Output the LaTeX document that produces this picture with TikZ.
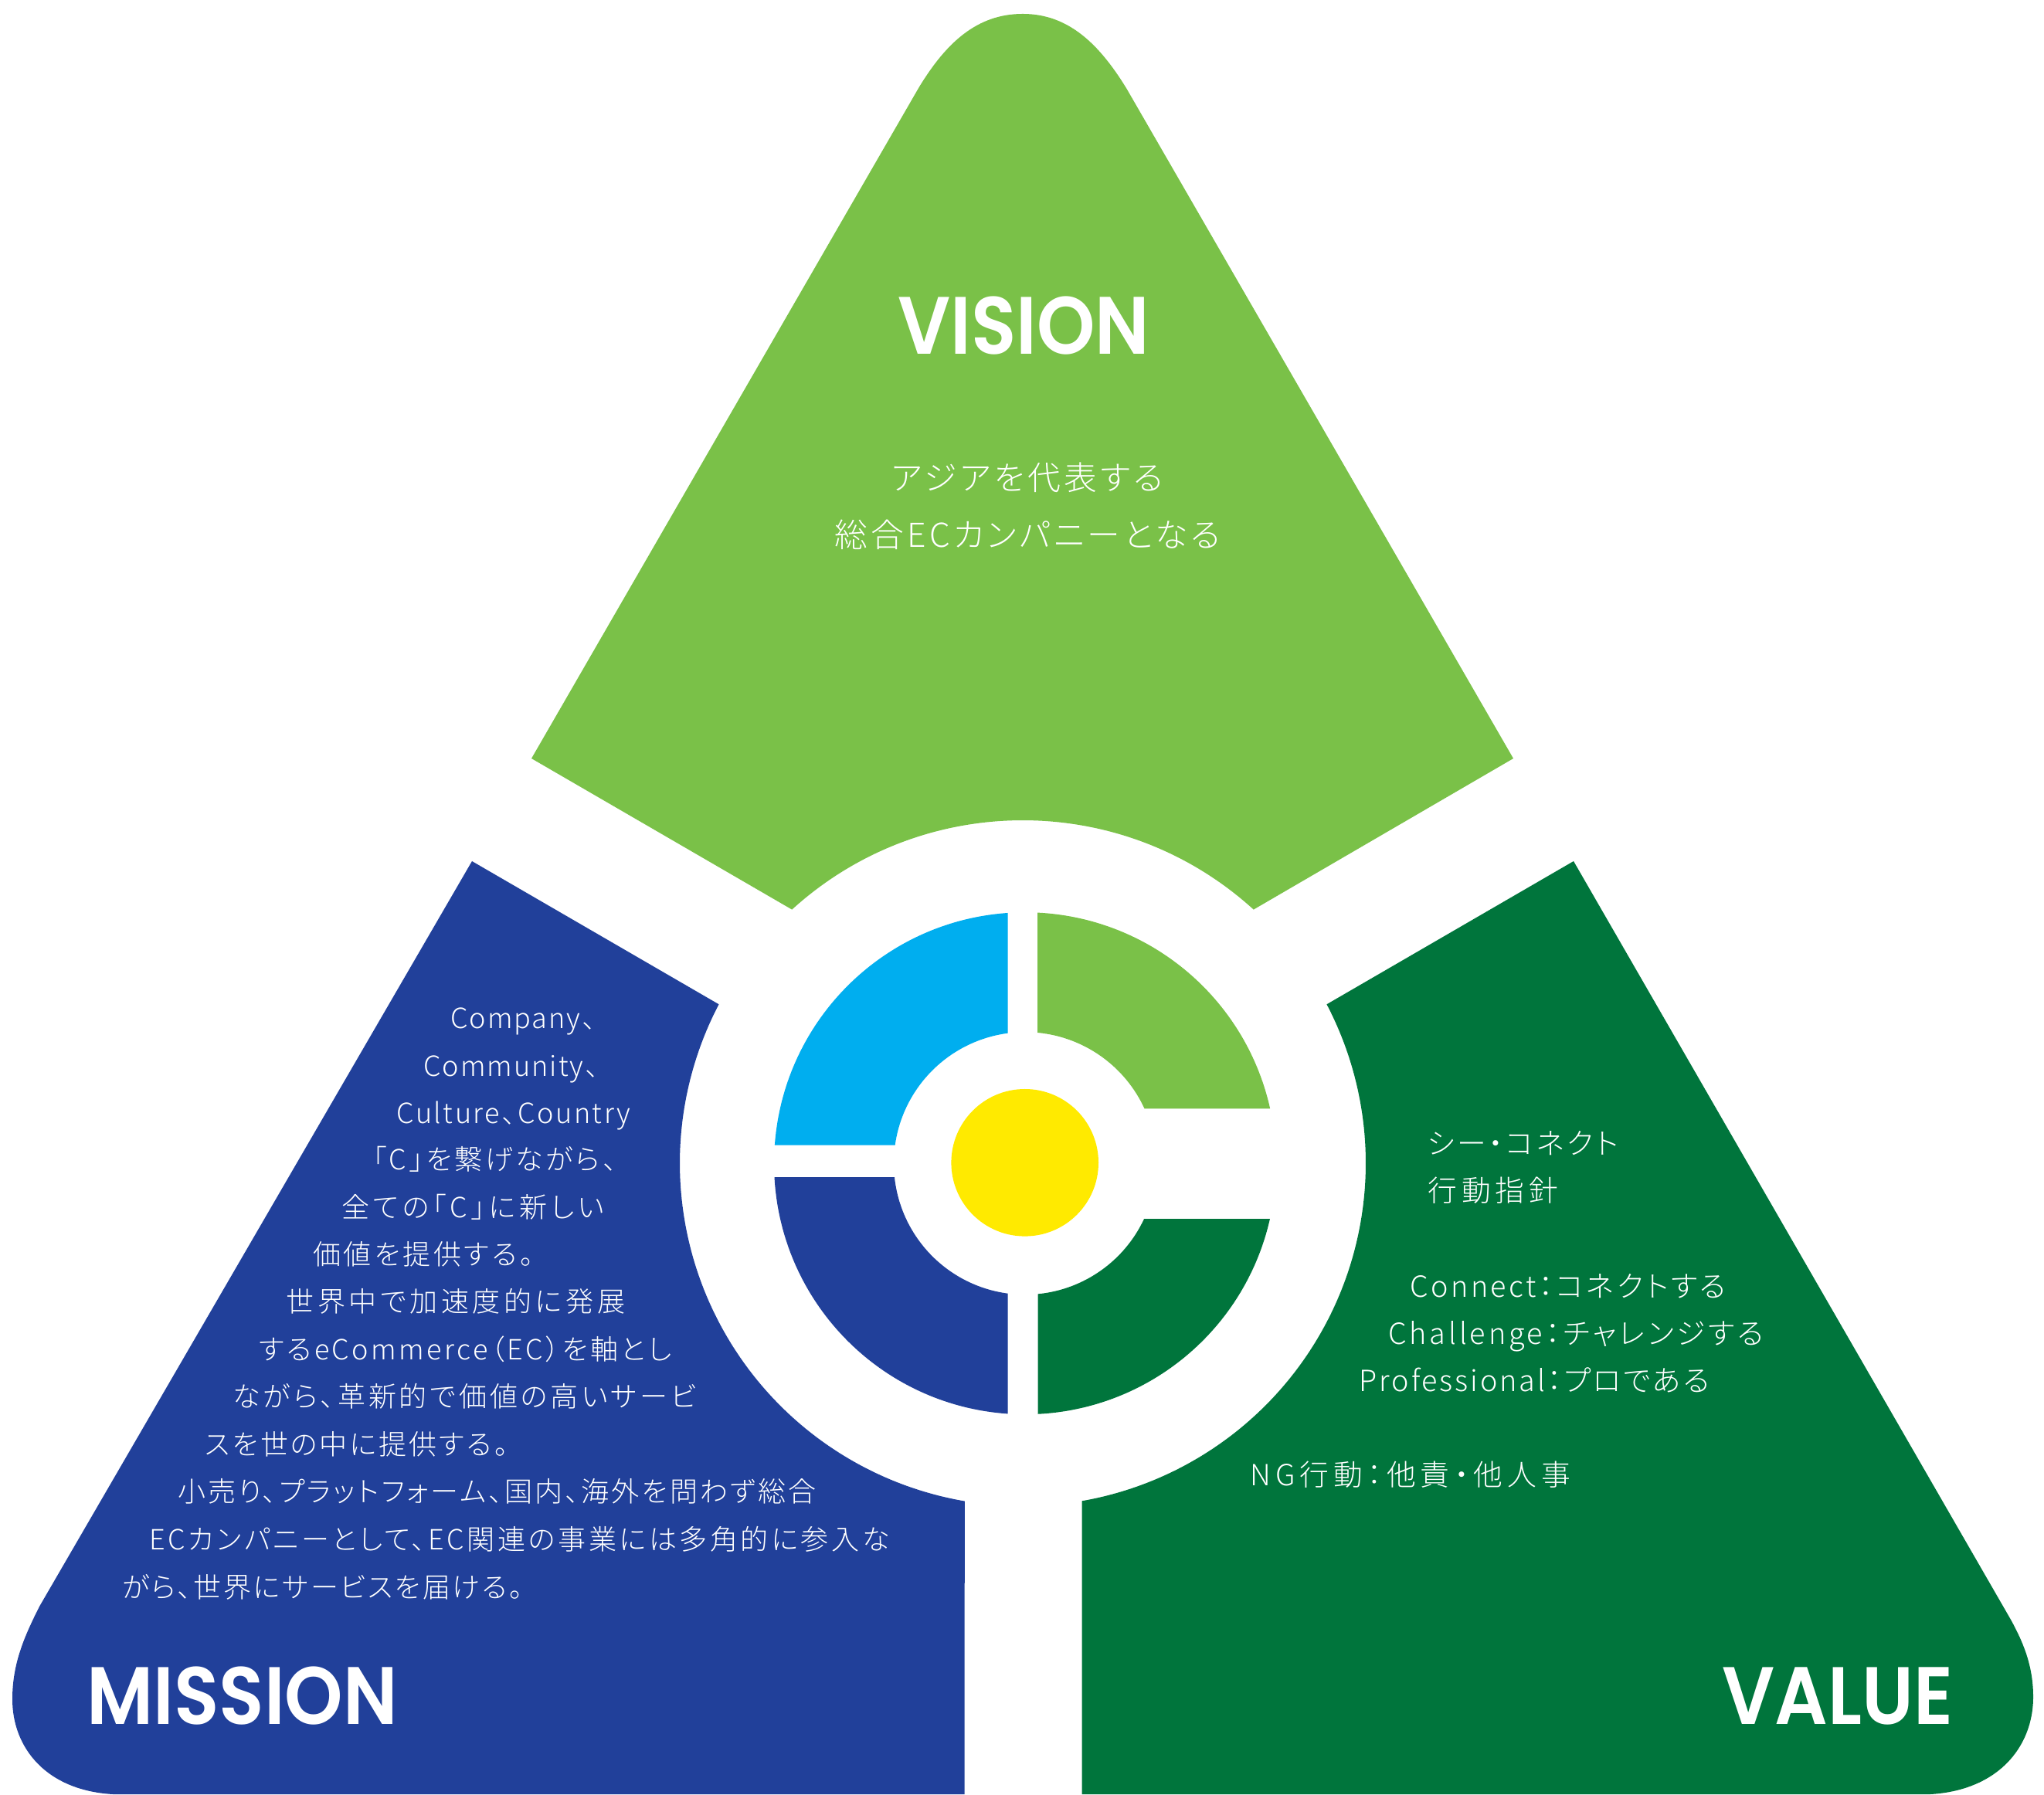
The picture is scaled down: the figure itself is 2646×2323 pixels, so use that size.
\documentclass[tikz,border=0pt]{standalone}
\usepackage{fontspec}
\newfontfamily\jpfont[LetterSpace=10,RawFeature=+palt]{Noto Sans CJK JP Light}
\newfontfamily\latinfont[LetterSpace=5.5,RawFeature=+palt]{Noto Sans CJK JP Light}
\newfontfamily\titlefont[FakeStretch=.91]{Poppins SemiBold}
\definecolor{visiongreen}{HTML}{7AC148}
\definecolor{missionblue}{HTML}{21409A}
\definecolor{valuegreen}{HTML}{00753C}
\definecolor{ringcyan}{HTML}{00AEEF}
\definecolor{coreyellow}{HTML}{FFEA00}
\newcommand{\spaced}[1]{\addfontfeatures{LetterSpace=#1}}
\tikzset{
  bodytext/.style={anchor=base west, inner sep=0pt, text=white, font=\jpfont\fontsize{20.5}{24}\selectfont},
  latintext/.style={bodytext, font=\latinfont\fontsize{20.5}{24}\selectfont},
  visiontext/.style={anchor=base, inner sep=0pt, text=white, font=\jpfont\fontsize{24.3}{28}\selectfont},
  valuetext/.style={bodytext, font=\jpfont\fontsize{21.5}{25}\selectfont},
  titletext/.style={inner sep=0pt, text=white, font=\titlefont\fontsize{60}{72}\selectfont}
}
\begin{document}
\begin{tikzpicture}[x=0.02cm, y=0.02cm]
\useasboundingbox (0,0) rectangle (2646,2323);

% big shapes
\fill[visiongreen] (688,1341) -- ([shift={(132.3:444)}]1324,817) arc[start angle=132.3, end angle=47.7, radius=444]
  -- (1959,1341) -- (1458.5,2208) .. controls (1423,2266) and (1383,2305) .. (1324,2305)
  .. controls (1265,2305) and (1225,2268) .. (1189.7,2210) -- cycle;
\fill[missionblue] (611,1208) -- ([shift={(152.4:444)}]1324,817) arc[start angle=152.4, end angle=260.24, radius=444]
  -- (1248.7,0) -- (146,0) .. controls (60,5) and (16,60) .. (16,123) .. controls (16,170) and (32,205) .. (51,243) -- cycle;
\fill[valuegreen] (2037,1208) -- ([shift={(27.6:444)}]1324,817) arc[start angle=27.6, end angle=-80.07, radius=444]
  -- (1400.6,0) -- (2499,0) .. controls (2585,5) and (2632,60) .. (2632,126) .. controls (2632,165) and (2620,195) .. (2603,226) -- cycle;

% ring in the middle
\begin{scope}[shift={(1327,816.8)}]
\fill[ringcyan] (93.97:325) arc[start angle=93.97, end angle=175.85, radius=325] -- (172.06:170) arc[start angle=172.06, end angle=97.61, radius=170] -- cycle;
\fill[missionblue] (183.17:325) arc[start angle=183.17, end angle=266.03, radius=325] -- (262.39:170) arc[start angle=262.39, end angle=186.08, radius=170] -- cycle;
\fill[visiongreen] (87.18:325) arc[start angle=87.18, end angle=12.60, radius=325] -- (24.65:170) arc[start angle=24.65, end angle=84.60, radius=170] -- cycle;
\fill[valuegreen] (-12.80:325) arc[start angle=-12.80, end angle=-87.09, radius=325] -- (-84.43:170) arc[start angle=-84.43, end angle=-25.06, radius=170] -- cycle;
\end{scope}
\fill[coreyellow] (1326.7,817.7) circle (95.3);

% titles
\node[titletext, anchor=base] (visiontitle) at (1325.5,1864) {VISION};
\node[titletext, anchor=base west] (missiontitle) at (112,91) {MISSION};
\node[titletext, anchor=base west] (valuetitle) at (2229,91) {VALUE};

% vision text
\node[visiontext] (visionone) at (1330,1688) {アジアを代表する};
\node[visiontext] (visiontwo) at (1330,1614) {総合ECカンパニーとなる};

% mission text
\node[latintext] (missionone) at (583,991) {Company、};
\node[latintext] (missiontwo) at (548,929) {Community、};
\node[latintext] (missionthree) at (513,868) {\spaced{7}Culture、Country};
\node[bodytext] (missionfour) at (482,808) {「C」を繋げながら、};
\node[bodytext] (missionfive) at (442,746) {\spaced{13}全ての「C」に新しい};
\node[bodytext] (missionsix) at (405,685) {価値を提供する。};
\node[bodytext] (missionseven) at (370,624) {\spaced{13}世界中で加速度的に発展};
\node[bodytext] (missioneight) at (335,562) {\spaced{9.5}するeCommerce（EC）を軸とし};
\node[bodytext] (missionnine) at (301,501) {\spaced{11}ながら、革新的で価値の高いサービ};
\node[bodytext] (missionten) at (265,440) {\spaced{8.5}スを世の中に提供する。};
\node[bodytext] (missioneleven) at (230,379) {\spaced{8.5}小売り、プラットフォーム、国内、海外を問わず総合};
\node[bodytext] (missiontwelve) at (193,317) {ECカンパニーとして、EC関連の事業には多角的に参入な};
\node[bodytext] (missionthirteen) at (158,255) {\spaced{7.5}がら、世界にサービスを届ける。};

% value text
\node[valuetext] (valueone) at (1848,828) {\spaced{9}シー・コネクト};
\node[valuetext] (valuetwo) at (1848,767) {\spaced{16}行動指針};
\node[valuetext] (valuethree) at (1825,643) {\spaced{9}Connect：コネクトする};
\node[valuetext] (valuefour) at (1797,582) {Challenge：チャレンジする};
\node[valuetext] (valuefive) at (1759.5,521) {\spaced{7.5}Professional：プロである};
\node[valuetext] (valuesix) at (1618,400) {\spaced{16}NG行動：他責・他人事};
\end{tikzpicture}
\end{document}
